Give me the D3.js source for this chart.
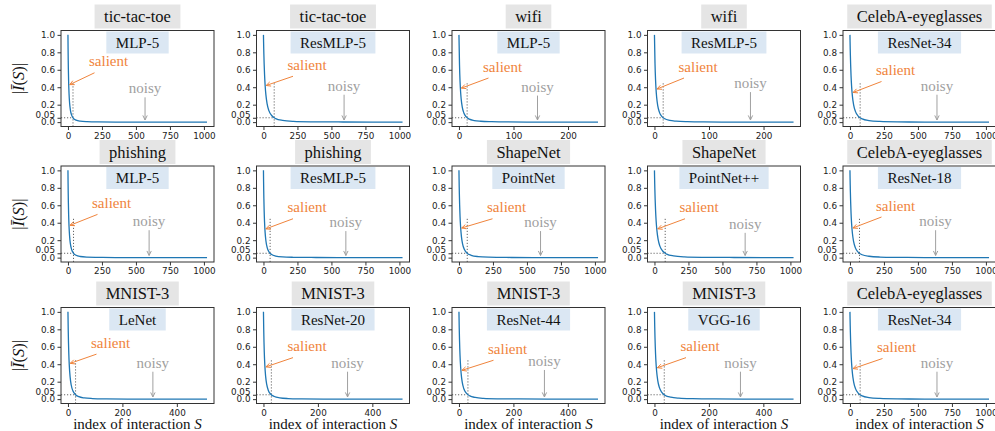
<!DOCTYPE html>
<html>
<head>
<meta charset="utf-8">
<script src="https://cdn.jsdelivr.net/npm/d3@7"></script>
<style>
  body { margin: 0; background: #fff; }
  .tick text { font-family: "DejaVu Sans", sans-serif; font-size: 8.8px; fill: #222; }
  .tick line { stroke: #333; }
  .serif { font-family: "Liberation Serif", "Times New Roman", Times, "DejaVu Serif", serif; }
</style>
</head>
<body>
<div id="chart"></div>
<script>
const idx1024 = [0, 1, 2, 3, 5, 8, 12, 18, 27, 40, 60, 90, 140, 220, 350, 550, 800, 1023];
const idx512 = [0, 1, 2, 3, 5, 8, 12, 18, 27, 40, 60, 90, 140, 220, 330, 511];
const idx256 = [0, 1, 2, 3, 4, 6, 9, 13, 19, 28, 40, 60, 90, 140, 200, 255];

// panels, row by row
const datasets = ["tic-tac-toe", "tic-tac-toe", "wifi", "wifi", "CelebA-eyeglasses",
                  "phishing", "phishing", "ShapeNet", "ShapeNet", "CelebA-eyeglasses",
                  "MNIST-3", "MNIST-3", "MNIST-3", "MNIST-3", "CelebA-eyeglasses"];
const models = ["MLP-5", "ResMLP-5", "MLP-5", "ResMLP-5", "ResNet-34",
                "MLP-5", "ResMLP-5", "PointNet", "PointNet++", "ResNet-18",
                "LeNet", "ResNet-20", "ResNet-44", "VGG-16", "ResNet-34"];
const nInteractions = [1024, 1024, 256, 256, 1024,
                       1024, 1024, 1024, 1024, 1024,
                       512, 512, 512, 512, 1024];
// index where |I(S)| drops to 0.05 (dotted lines)
const thresholds = [37, 79, 15, 16, 75,
                    41, 49, 61, 79, 70,
                    28, 29, 33, 36, 75];
// x of the "noisy" arrow
const noisyAt = [567, 593, 144, 176, 640,
                 597, 606, 600, 667, 630,
                 312, 309, 314, 316, 640];
// value the "salient" arrow points at
const salientAt = [0.43, 0.42, 0.39, 0.38, 0.34,
                   0.37, 0.33, 0.34, 0.33, 0.34,
                   0.41, 0.37, 0.33, 0.36, 0.35];

const curves = [
  [1, 0.836, 0.709, 0.609, 0.463, 0.327, 0.221, 0.138, 0.080, 0.044, 0.023, 0.011, 0.005, 0.002, 0.001, 0.000, 0.000, 0.000],
  [1, 0.918, 0.845, 0.781, 0.672, 0.548, 0.429, 0.312, 0.209, 0.132, 0.076, 0.041, 0.020, 0.009, 0.004, 0.002, 0.001, 0.000],
  [1, 0.660, 0.467, 0.348, 0.270, 0.175, 0.105, 0.062, 0.034, 0.018, 0.010, 0.005, 0.002, 0.001, 0.000, 0.000],
  [1, 0.675, 0.486, 0.367, 0.287, 0.189, 0.115, 0.069, 0.038, 0.020, 0.011, 0.005, 0.002, 0.001, 0.000, 0.000],
  [1, 0.914, 0.837, 0.771, 0.660, 0.533, 0.413, 0.298, 0.198, 0.123, 0.070, 0.037, 0.018, 0.008, 0.003, 0.001, 0.001, 0.000],
  [1, 0.850, 0.732, 0.636, 0.494, 0.356, 0.246, 0.157, 0.093, 0.052, 0.027, 0.013, 0.006, 0.003, 0.001, 0.000, 0.000, 0.000],
  [1, 0.872, 0.767, 0.681, 0.545, 0.408, 0.292, 0.193, 0.118, 0.068, 0.036, 0.018, 0.008, 0.004, 0.002, 0.001, 0.000, 0.000],
  [1, 0.895, 0.806, 0.729, 0.606, 0.472, 0.353, 0.244, 0.155, 0.093, 0.051, 0.027, 0.012, 0.005, 0.002, 0.001, 0.000, 0.000],
  [1, 0.918, 0.845, 0.781, 0.672, 0.548, 0.429, 0.312, 0.209, 0.132, 0.076, 0.041, 0.020, 0.009, 0.004, 0.002, 0.001, 0.000],
  [1, 0.907, 0.828, 0.757, 0.642, 0.512, 0.393, 0.279, 0.183, 0.112, 0.063, 0.033, 0.016, 0.007, 0.003, 0.001, 0.000, 0.000],
  [1, 0.792, 0.642, 0.531, 0.381, 0.252, 0.162, 0.096, 0.053, 0.028, 0.014, 0.007, 0.003, 0.001, 0.000, 0.000],
  [1, 0.797, 0.651, 0.541, 0.391, 0.261, 0.168, 0.100, 0.056, 0.030, 0.015, 0.007, 0.003, 0.001, 0.000, 0.000],
  [1, 0.819, 0.683, 0.578, 0.429, 0.295, 0.195, 0.119, 0.068, 0.037, 0.019, 0.009, 0.004, 0.002, 0.001, 0.000],
  [1, 0.832, 0.703, 0.602, 0.455, 0.319, 0.215, 0.134, 0.077, 0.042, 0.022, 0.011, 0.005, 0.002, 0.001, 0.000],
  [1, 0.914, 0.837, 0.771, 0.660, 0.533, 0.413, 0.298, 0.198, 0.123, 0.070, 0.037, 0.018, 0.008, 0.003, 0.001, 0.001, 0.000]
];

const yTicks = [0, 0.05, 0.2, 0.4, 0.6, 0.8, 1.0];
const xTicksFor = { 1024: [0, 250, 500, 750, 1000], 512: [0, 200, 400], 256: [0, 100, 200] };
const indexFor = { 1024: idx1024, 512: idx512, 256: idx256 };

// layout
const width = 995, height = 431;
const pw = 153, ph = 96;
const rowTops = [30.5, 166, 307.5];
const colLeft = c => 61 + c * 195.5;
// where the annotation texts sit (axis units, picked by eye)
const salientY = [0.64, 0.60, 0.58, 0.58, 0.54, 0.57, 0.52, 0.52, 0.52, 0.54, 0.59, 0.55, 0.52, 0.55, 0.54];
const salientDx = [28, 31, 31, 31, 33, 31, 31, 35, 32, 33, 30, 31, 36, 33, 34];
const noisyY = [0.33, 0.36, 0.35, 0.39, 0.36, 0.36, 0.35, 0.35, 0.33, 0.36, 0.36, 0.36, 0.38, 0.36, 0.36];

const orange = "#f0843c", gray = "#a0a0a0";

const svg = d3.select("#chart").append("svg")
    .attr("width", width)
    .attr("height", height);

// where the curve passes a given value
function xAtValue(ix, vals, v) {
    for (let j = 1; j < vals.length; j++) {
        if (vals[j] <= v) {
            const t = (vals[j - 1] - v) / (vals[j - 1] - vals[j]);
            return ix[j - 1] + t * (ix[j] - ix[j - 1]);
        }
    }
    return ix[0];
}

function arrow(g, x1, y1, x2, y2, color) {
    g.append("line")
        .attr("x1", x1).attr("y1", y1).attr("x2", x2).attr("y2", y2)
        .attr("stroke", color).attr("stroke-width", 1);
    const a = Math.atan2(y2 - y1, x2 - x1), L = 5, s = 0.45;
    g.append("path")
        .attr("d", `M${x2 - L * Math.cos(a - s)},${y2 - L * Math.sin(a - s)}L${x2},${y2}L${x2 - L * Math.cos(a + s)},${y2 - L * Math.sin(a + s)}`)
        .attr("fill", "none").attr("stroke", color).attr("stroke-width", 1);
}

datasets.forEach((name, i) => {
    const r = Math.floor(i / 5), c = i % 5;
    const left = colLeft(c), top = rowTops[r];
    const n = nInteractions[i];
    const ix = indexFor[n];
    const vals = curves[i];
    const pts = ix.map((d, j) => [d, vals[j]]);

    const x = d3.scaleLinear().domain([-0.05 * (n - 1), 1.05 * (n - 1)]).range([0, pw]);
    const y = d3.scaleLinear().domain([-0.05, 1.05]).range([ph, 0]);

    const g = svg.append("g").attr("transform", `translate(${left},${top})`);

    // dataset title (gray box)
    const title = svg.append("g");
    const tt = title.append("text")
        .attr("class", "serif")
        .attr("x", left + pw / 2).attr("y", top - 8.5)
        .attr("text-anchor", "middle")
        .attr("font-size", 16.5).attr("fill", "#111")
        .text(name);
    const tw = tt.node().getComputedTextLength();
    title.insert("rect", "text")
        .attr("x", left + pw / 2 - tw / 2 - 9.5).attr("y", top - 26)
        .attr("width", tw + 19).attr("height", 24)
        .attr("fill", "#e5e5e5");

    // model label (blue box)
    const mt = g.append("text")
        .attr("class", "serif")
        .attr("x", pw / 2).attr("y", 17)
        .attr("text-anchor", "middle")
        .attr("font-size", 15).attr("fill", "#111")
        .text(models[i]);
    const mw = mt.node().getComputedTextLength();
    g.insert("rect", "text")
        .attr("x", pw / 2 - mw / 2 - 9.5).attr("y", 1)
        .attr("width", mw + 19).attr("height", 22)
        .attr("fill", "#dbe7f3");

    // dotted threshold lines
    const k = thresholds[i];
    g.append("line")
        .attr("x1", x(k)).attr("x2", x(k)).attr("y1", ph).attr("y2", y(0.45))
        .attr("stroke", "#666").attr("stroke-width", 1).attr("stroke-dasharray", "1.2,1.8");
    g.append("line")
        .attr("x1", 0).attr("x2", x(k)).attr("y1", y(0.05)).attr("y2", y(0.05))
        .attr("stroke", "#666").attr("stroke-width", 1).attr("stroke-dasharray", "1.2,1.8");

    // curve
    g.append("path")
        .datum(pts)
        .attr("d", d3.line().x(d => x(d[0])).y(d => y(d[1])).curve(d3.curveMonotoneX))
        .attr("fill", "none").attr("stroke", "#1f77b4").attr("stroke-width", 1.3);

    // salient annotation
    const sx = salientDx[i], sy = y(salientY[i]);
    g.append("text")
        .attr("class", "serif")
        .attr("x", sx).attr("y", sy)
        .attr("font-size", 15).attr("fill", orange)
        .text("salient");
    const tipX = x(xAtValue(ix, vals, salientAt[i])) + 1;
    arrow(g, sx + 5.5, sy + 6.5, tipX, y(salientAt[i]), orange);

    // noisy annotation
    const nx = x(noisyAt[i]), ny = y(noisyY[i]);
    g.append("text")
        .attr("class", "serif")
        .attr("x", nx).attr("y", ny)
        .attr("text-anchor", "middle")
        .attr("font-size", 15).attr("fill", gray)
        .text("noisy");
    arrow(g, nx, ny + 4, nx, y(0.025), gray);

    // axes
    g.append("g")
        .attr("transform", `translate(0,${ph})`)
        .call(d3.axisBottom(x).tickValues(xTicksFor[n]).tickSize(3.5).tickPadding(2.5).tickFormat(d3.format("d")))
        .call(a => a.select(".domain").remove());
    g.append("g")
        .call(d3.axisLeft(y).tickValues(yTicks).tickSize(3.5).tickPadding(2.5)
            .tickFormat(d => d === 0.05 ? "0.05" : d.toFixed(1)))
        .call(a => a.select(".domain").remove())
        .call(a => a.selectAll(".tick text").filter(d => d === 0.05).attr("dy", "-0.05em"));

    // frame
    g.append("rect")
        .attr("width", pw).attr("height", ph)
        .attr("fill", "none").attr("stroke", "#333").attr("stroke-width", 1);

    // y label on the first column
    if (c === 0) {
        const yl = svg.append("text")
            .attr("class", "serif")
            .attr("transform", `translate(24,${top + ph / 2}) rotate(-90)`)
            .attr("text-anchor", "middle")
            .attr("font-size", 16.5).attr("fill", "#111");
        yl.append("tspan").text("|");
        yl.append("tspan").attr("font-style", "italic").text("Ī");
        yl.append("tspan").text("(");
        yl.append("tspan").attr("font-style", "italic").text("S");
        yl.append("tspan").text(")|");
    }

    // x label on the last row
    if (r === 2) {
        const xl = svg.append("text")
            .attr("class", "serif")
            .attr("x", left + pw / 2).attr("y", 428.5)
            .attr("text-anchor", "middle")
            .attr("font-size", 15).attr("fill", "#111");
        xl.append("tspan").text("index of interaction ");
        xl.append("tspan").attr("font-style", "italic").text("S");
    }
});
</script>
</body>
</html>
